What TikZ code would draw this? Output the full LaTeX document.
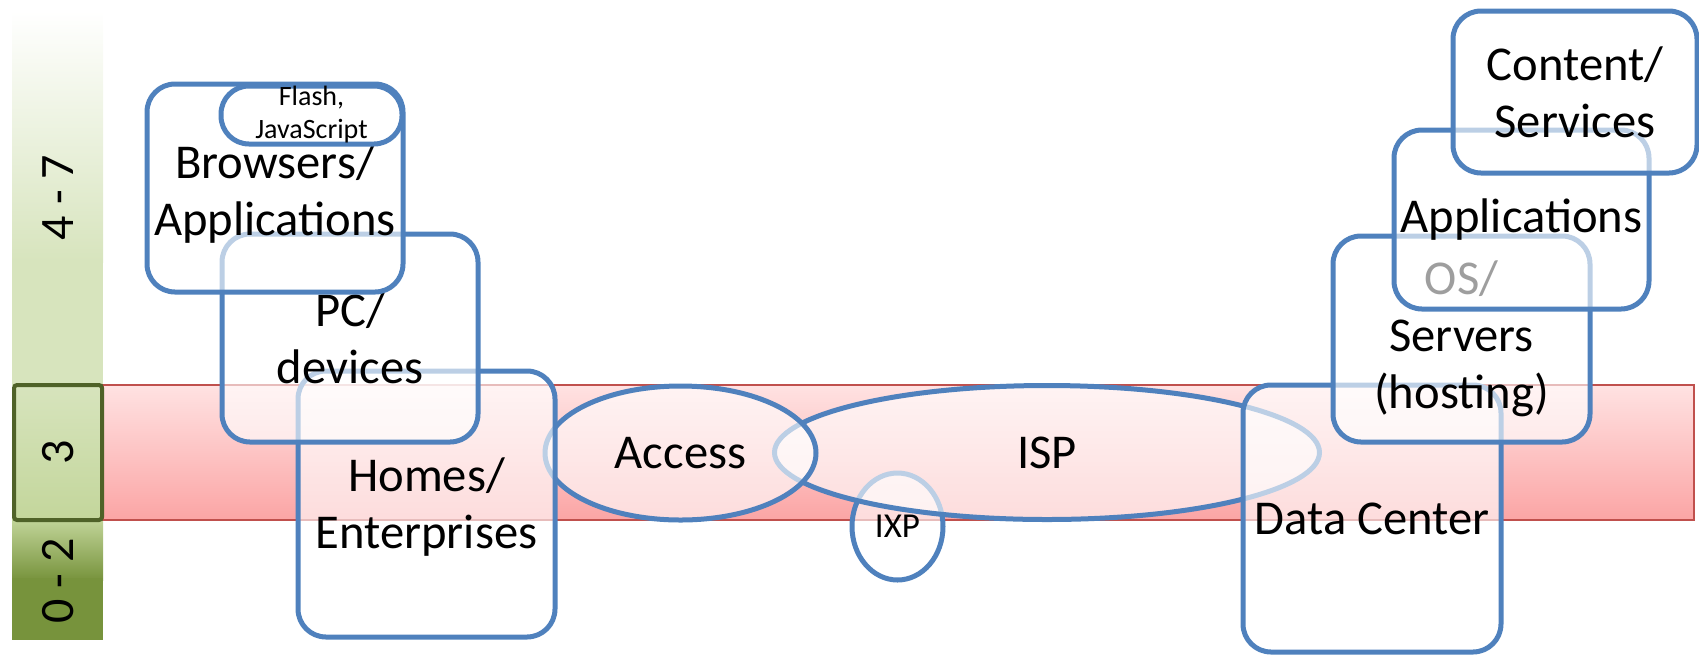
\documentclass[tikz,border=0pt]{standalone}
\usepackage{fontspec}
\usepackage{graphicx}
\setmainfont{Carlito}
\usetikzlibrary{shapes.geometric}

\definecolor{boxblue}{HTML}{4F81BD}
\definecolor{bandred}{HTML}{C0504D}
\definecolor{bandtop}{HTML}{FFE2E2}
\definecolor{bandbottom}{HTML}{FBA5A5}
\definecolor{lvllight}{HTML}{D7E4BD}
\definecolor{lvlmid}{HTML}{C3D69B}
\definecolor{lvldark}{HTML}{77933C}
\definecolor{lvlborder}{HTML}{4F6228}

\newcommand\bigtxt{\fontsize{24.3pt}{28.5pt}\selectfont}
\newcommand\smalltxt{\fontsize{14pt}{16.5pt}\selectfont}
\newcommand\ixptxt{\fontsize{17.5pt}{20pt}\selectfont}
\newcommand\lvltxt{\fontsize{24pt}{28pt}\selectfont}

\tikzset{
  rbox/.style={rectangle, draw=boxblue, line width=2.5pt, fill=white,
    fill opacity=0.62, text opacity=1, rounded corners=14pt,
    inner sep=0pt, align=center, font=\bigtxt},
  oval/.style={ellipse, draw=boxblue, line width=2.5pt, fill=white,
    fill opacity=0.62, text opacity=1, inner sep=0pt, font=\bigtxt},
  band/.style={rectangle, draw=bandred, line width=0.8pt,
    top color=bandtop, bottom color=bandbottom, inner sep=0pt},
  lvlbox/.style={rectangle, draw=lvlborder, line width=2pt,
    rounded corners=1.5pt, top color=lvllight, bottom color=lvlmid,
    inner sep=0pt, font=\lvltxt},
  lvltext/.style={font=\lvltxt, inner sep=0pt}
}

\begin{document}
\begin{tikzpicture}[x=0.5pt,y=-0.5pt]
\useasboundingbox (0,0) rectangle (1699,655);

% layer scale on the left
\shade[top color=white, bottom color=lvllight] (12,11) rectangle (103,262);
\fill[lvllight] (12,260) rectangle (103,386);
\shade[top color=lvlmid, bottom color=lvldark] (12,518) rectangle (103,580);
\fill[lvldark] (12,578) rectangle (103,640);

% network layer band
\node[band, minimum width=795.5pt, minimum height=67.5pt] (layer3) at (898.5,452.5) {};

\node[lvlbox, minimum width=44pt, minimum height=67.5pt] (lvl3) at (58,452.5) {\rotatebox{90}{3}};
\node[lvltext, rotate=90] (lvl47) at (58,197.5) {4 - 7};
\node[lvltext, rotate=90] (lvl02) at (58,581) {0 - 2};

% client side, back to front
\node[oval, minimum width=45.5pt, minimum height=53.5pt, font=\ixptxt] (ixp) at (897.5,526.5) {IXP};
\node[oval, minimum width=272.5pt, minimum height=67pt] (isp) at (1047,452.5) {ISP};
\node[oval, minimum width=135.5pt, minimum height=67pt] (access) at (680.5,453) {Access};
\node[rbox, minimum width=128.5pt, minimum height=133pt, text height=44pt, text depth=0pt] (homes) at (426.5,504) {Homes/\\Enterprises};
\node[rbox, minimum width=128pt, minimum height=104pt] (pc) at (350,338) {PC/\\devices};
\node[rbox, minimum width=128pt, minimum height=104pt, text height=47pt, text depth=0pt] (browsers) at (275,188) {Browsers/\\Applications};
\node[rbox, minimum width=90.5pt, minimum height=29pt, font=\smalltxt] (flash) at (311.5,115) {Flash,\\JavaScript};

% server side, back to front
\node[rbox, minimum width=129pt, minimum height=133.5pt] (dc) at (1372,518.5) {Data Center};
\node[rbox, minimum width=128.5pt, minimum height=103pt] (servers) at (1461.5,339) {OS/\\Servers\\(hosting)};
\node[rbox, minimum width=127.5pt, minimum height=89.5pt] (apps) at (1521.5,219.5) {Applications};
\node[rbox, minimum width=122pt, minimum height=81pt] (content) at (1575,92) {Content/\\Services};
\end{tikzpicture}
\end{document}
